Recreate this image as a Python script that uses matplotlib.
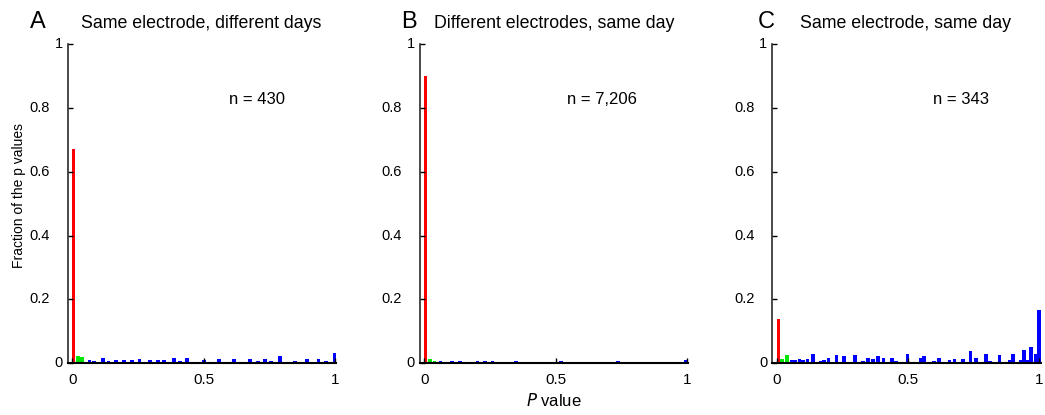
import matplotlib
matplotlib.use('Agg')
import matplotlib.pyplot as plt

plt.rcParams['font.family'] = ['Liberation Sans', 'DejaVu Sans']

# ---------------- data ----------------
titles = ['Same electrode, different days', 'Different electrodes, same day', 'Same electrode, same day']
letters = ['A', 'B', 'C']
n_labels = ['n = 430', 'n = 7,206', 'n = 343']

# red bin (p < 0.01)
red_x = [0.005, 0.005, 0.006]
red_h = [0.67, 0.90, 0.14]

# green bins (0.01 <= p < 0.05)
green_x_A = [0.020, 0.036]
green_h_A = [0.024, 0.020]
green_x_B = [0.021, 0.038]
green_h_B = [0.014, 0.008]
green_x_C = [0.018, 0.037]
green_h_C = [0.014, 0.025]

# blue bins (p >= 0.05)
blue_x_A = [0.065, 0.082, 0.116, 0.137, 0.166, 0.195, 0.226, 0.255, 0.295, 0.327,
            0.348, 0.386, 0.410, 0.436, 0.500, 0.557, 0.616, 0.675, 0.707, 0.734,
            0.756, 0.792, 0.848, 0.895, 0.937, 0.967, 0.998]
blue_h_A = [0.010, 0.008, 0.017, 0.008, 0.011, 0.011, 0.011, 0.015, 0.009, 0.009,
            0.011, 0.017, 0.006, 0.018, 0.011, 0.013, 0.013, 0.012, 0.006, 0.013,
            0.006, 0.022, 0.008, 0.012, 0.012, 0.006, 0.032]

blue_x_B = [0.061, 0.080, 0.105, 0.135, 0.173, 0.202, 0.231, 0.259, 0.293, 0.349,
            0.400, 0.457, 0.521, 0.561, 0.621, 0.681, 0.737, 0.800, 0.857, 0.913,
            0.965, 0.996]
blue_h_B = [0.006, 0.005, 0.007, 0.007, 0.005, 0.007, 0.007, 0.006, 0.005, 0.007,
            0.005, 0.005, 0.007, 0.005, 0.005, 0.005, 0.007, 0.005, 0.005, 0.005,
            0.005, 0.009]

blue_x_C = [0.057, 0.068, 0.086, 0.098, 0.116, 0.137, 0.167, 0.180, 0.196, 0.227,
            0.256, 0.297, 0.327, 0.348, 0.366, 0.386, 0.406, 0.438, 0.452, 0.497,
            0.510, 0.548, 0.560, 0.598, 0.618, 0.657, 0.676, 0.708, 0.737, 0.758,
            0.797, 0.812, 0.848, 0.886, 0.898, 0.929, 0.940, 0.952, 0.968, 0.986,
            0.998]
blue_h_C = [0.011, 0.011, 0.014, 0.009, 0.014, 0.028, 0.006, 0.009, 0.016, 0.025,
            0.022, 0.025, 0.008, 0.018, 0.014, 0.022, 0.016, 0.016, 0.006, 0.028,
            0.004, 0.018, 0.022, 0.008, 0.016, 0.011, 0.013, 0.013, 0.037, 0.018,
            0.028, 0.008, 0.025, 0.009, 0.028, 0.011, 0.043, 0.009, 0.050, 0.028,
            0.167]

green_x = [green_x_A, green_x_B, green_x_C]
green_h = [green_h_A, green_h_B, green_h_C]
blue_x = [blue_x_A, blue_x_B, blue_x_C]
blue_h = [blue_h_A, blue_h_B, blue_h_C]

y_ticks = [0, 0.2, 0.4, 0.6, 0.8, 1]
y_ticklabels = ['0', '0.2', '0.4', '0.6', '0.8', '1']
x_ticks = [0, 0.5, 1]
x_ticklabels = ['0', '0.5', '1']

# ---------------- layout ----------------
W, H = 1045, 415
fig = plt.figure(figsize=(W / 100, H / 100), dpi=100)

ax_left_px = [67.5, 419.5, 772.0]
ax_w_px = 268.5
ax_top_px = 44.0
ax_bot_px = 363.3
letter_x_px = [38, 409, 766]
title_x_px = [201, 554, 906]
n_x_pos = [0.60, 0.55, 0.60]

RED = '#ff0000'
GREEN = '#00e600'
BLUE = '#0000ff'
BW = 0.0145

for i in range(3):
    ax = fig.add_axes([ax_left_px[i] / W, 1 - ax_bot_px / H, ax_w_px / W,
                       (ax_bot_px - ax_top_px) / H])
    ax.bar(blue_x[i], blue_h[i], width=BW, color=BLUE, linewidth=0)
    ax.bar(green_x[i], green_h[i], width=BW, color=GREEN, linewidth=0)
    ax.bar([red_x[i]], [red_h[i]], width=0.012, color=RED, linewidth=0)

    ax.set_xlim(-0.019, 1.004)
    ax.set_ylim(0, 1)
    for s in ['top', 'right']:
        ax.spines[s].set_visible(False)
    ax.spines['bottom'].set_linewidth(1.5)
    ax.spines['bottom'].set_color('black')
    ax.spines['left'].set_linewidth(1.2)
    ax.spines['left'].set_color('#2a2a2a')

    ax.set_xticks(x_ticks)
    ax.set_xticklabels(x_ticklabels, fontsize=11)
    ax.set_yticks(y_ticks)
    ax.set_yticklabels([])
    ax.tick_params(axis='x', direction='in', length=3.5, width=1, pad=7)
    ax.tick_params(axis='y', direction='in', length=3.5, width=1)
    # y tick labels (integers sit close to the axis, decimals further away)
    for yv, lab in zip(y_ticks, y_ticklabels):
        off = -3.5 if lab in ('0', '1') else -12.5
        ax.annotate(lab, xy=(0, yv), xycoords=('axes fraction', 'data'),
                    xytext=(off, 0), textcoords='offset points',
                    ha='right', va='center', fontsize=10.5)

    ax.text(n_x_pos[i], 0.825, n_labels[i], transform=ax.transAxes,
            ha='left', va='center', fontsize=12)

    fig.text(title_x_px[i] / W, 1 - 27.5 / H, titles[i], ha='center',
             va='baseline', fontsize=12.8)
    fig.text(letter_x_px[i] / W, 1 - 28.5 / H, letters[i], ha='center',
             va='baseline', fontsize=17, fontweight='light')

fig.text(19 / W, 1 - 196 / H, 'Fraction of the p values', rotation=90,
         ha='center', va='center', fontsize=10)
fig.text(554 / W, 1 - 400 / H, r'$\it{P}$ value', ha='center', va='center',
         fontsize=12)

fig.savefig('out.png', dpi=100)
